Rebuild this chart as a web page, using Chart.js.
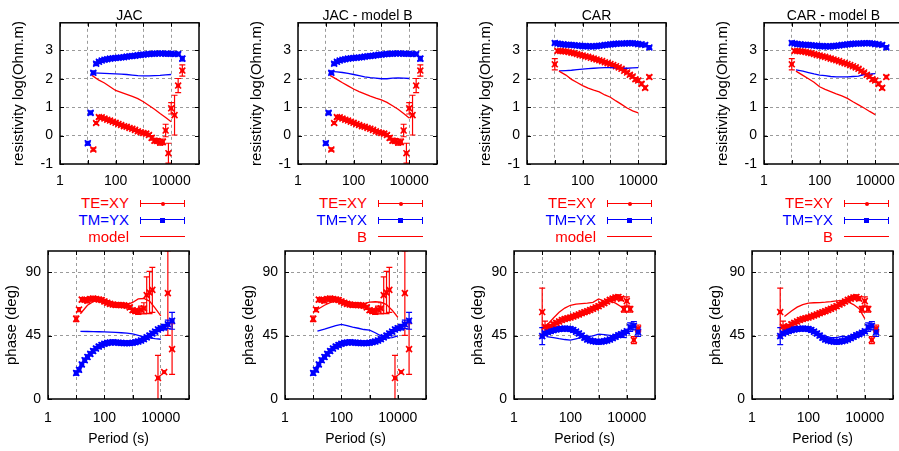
<!DOCTYPE html>
<html>
<head>
<meta charset="utf-8">
<script src="https://cdn.jsdelivr.net/npm/chart.js@4.4.1/dist/chart.umd.min.js"></script>
<style>
  html, body { margin: 0; padding: 0; background: #fff; overflow: hidden; }
  #page { position: relative; width: 899px; height: 451px; overflow: hidden;
          font-family: "Liberation Sans", Arial, sans-serif; }
  .box { position: absolute; }
  .lg { position: absolute; width: 120px; font-size: 15px; line-height: 18px; text-align: right; white-space: nowrap; }
  .smp { position: absolute; width: 45px; height: 9px; }
  .smp div { position: absolute; }
</style>
</head>
<body>
<div id="page"></div>
<script>
// periods (s) of the observed data
const PERIOD = [10, 12.6, 15.8, 20, 25.1, 31.6, 39.8, 50.1, 63.1, 79.4,
  100, 126, 158, 200, 251, 316, 398, 501, 631, 794,
  1000, 1259, 1585, 1995, 2512, 3162, 3981, 5012, 6310, 7943,
  10000, 13183, 17783, 25119];
// periods (s) of the model responses
const MODEL_PERIOD = [14.1, 25.1, 39.8, 63.1, 100, 158, 251, 398, 631, 1000, 1585, 2512, 3981, 6310, 10000];

const X_TICKS = [1, 10, 100, 1000, 10000, 100000];
const X_LABELS = [1, 100, 10000];
const RHO_TICKS = [-1, 0, 1, 2, 3];
const PHASE_TICKS = [0, 45, 90];

// JAC observed apparent resistivity, log10(Ohm.m)
const jacRhoTE = [null, null, -0.49, 0.44, 0.65, 0.64, 0.60, 0.56, 0.53, 0.49,
  0.45, 0.41, 0.37, 0.33, 0.31, 0.27, 0.24, 0.20, 0.15, 0.12,
  0.09, 0.07, 0.02, -0.08, -0.18, -0.19, -0.24, -0.22, 0.18, -0.62,
  0.96, 0.72, 1.76, 2.29];
const jacRhoTEerr = [0, 0, 0.05, 0.05, 0.05, 0.05, 0.05, 0.05, 0.05, 0.05,
  0.05, 0.05, 0.05, 0.05, 0.05, 0.05, 0.05, 0.05, 0.05, 0.05,
  0.06, 0.06, 0.06, 0.08, 0.08, 0.08, 0.1, 0.1, 0.22, 0.35,
  0.2, 0.7, 0.25, 0.2];
const jacRhoTM = [-0.27, 0.80, 2.21, 2.53, 2.60, 2.64, 2.67, 2.69, 2.71, 2.72,
  2.73, 2.74, 2.75, 2.76, 2.78, 2.79, 2.80, 2.81, 2.83, 2.84,
  2.85, 2.86, 2.87, 2.88, 2.88, 2.89, 2.89, 2.89, 2.88, 2.88,
  2.88, 2.87, 2.87, 2.71];
const jacRhoTMerr = [0.05, 0.05, 0.05, 0.04, 0.04, 0.04, 0.04, 0.04, 0.04, 0.04,
  0.04, 0.04, 0.04, 0.04, 0.04, 0.04, 0.04, 0.04, 0.04, 0.04,
  0.04, 0.04, 0.04, 0.04, 0.04, 0.04, 0.04, 0.04, 0.04, 0.04,
  0.04, 0.05, 0.05, 0.08];

// JAC observed phase, degrees
const jacPhTE = [56.9, 63.4, 70.5, 70.5, 69.7, 71.0, 71.3, 71.0, 70.6, 70.2,
  69.2, 68.3, 67.5, 67.0, 66.7, 66.7, 66.6, 66.4, 66.2, 65.0,
  63.0, 62.3, 62.0, 63.4, 64.3, 73.7, 75.5, 77.4, null, 14.9,
  null, 19.1, 75.1, 35.4];
const jacPhTEerr = [2, 1.5, 1.5, 1.5, 1.5, 1.5, 1.5, 1.5, 1.5, 1.5,
  1.5, 1.5, 1.5, 1.5, 1.5, 1.5, 1.5, 1.5, 1.5, 1.5,
  1.5, 1.5, 2, 2.5, 4, 13, 15, 16, 0, 16,
  0, 0, 30, 18];
const jacPhTM = [18.4, 20.7, 24.5, 27.5, 29.8, 32.0, 34.0, 35.8, 37.2, 38.3,
  39.2, 39.8, 40.1, 40.2, 40.1, 40.0, 39.8, 39.6, 39.5, 39.6,
  39.9, 40.3, 40.8, 41.5, 42.5, 43.7, 45.0, 46.5, 47.8, 49.3,
  50.2, 51.0, 53.0, 55.5];
const jacPhTMerr = [1.5, 1.5, 1.5, 1.5, 1.5, 1.5, 1.5, 1.5, 1.5, 1.5,
  1.5, 1.5, 1.5, 1.5, 1.5, 1.5, 1.5, 1.5, 1.5, 1.5,
  1.5, 1.5, 1.5, 1.5, 1.5, 1.5, 1.5, 1.5, 1.5, 1.5,
  1.5, 2, 3, 6];

// CAR observed apparent resistivity
const carRhoTE = [2.51, 2.98, 2.98, 2.97, 2.96, 2.94, 2.92, 2.90, 2.87, 2.84,
  2.82, 2.79, 2.77, 2.74, 2.71, 2.68, 2.65, 2.62, 2.58, 2.55,
  2.52, 2.48, 2.44, 2.40, 2.35, 2.28, 2.22, 2.14, 2.08, 1.98,
  1.94, 1.82, 1.68, 2.06];
const carRhoTEerr = [0.2, 0.05, 0.04, 0.04, 0.04, 0.04, 0.04, 0.04, 0.04, 0.04,
  0.04, 0.04, 0.04, 0.04, 0.04, 0.04, 0.04, 0.04, 0.04, 0.04,
  0.04, 0.04, 0.04, 0.04, 0.04, 0.04, 0.04, 0.05, 0.05, 0.06,
  0.06, 0.06, 0.06, 0.06];
const carRhoTM = [3.26, 3.24, 3.22, 3.21, 3.20, 3.20, 3.19, 3.18, 3.17, 3.16,
  3.15, 3.15, 3.14, 3.14, 3.14, 3.15, 3.16, 3.17, 3.19, 3.20,
  3.21, 3.22, 3.23, 3.24, 3.24, 3.24, 3.25, 3.25, 3.25, 3.24,
  3.22, 3.21, 3.19, 3.10];
const carRhoTMerr = [0.05, 0.04, 0.04, 0.04, 0.04, 0.04, 0.04, 0.04, 0.04, 0.04,
  0.04, 0.04, 0.04, 0.04, 0.04, 0.04, 0.04, 0.04, 0.04, 0.04,
  0.04, 0.04, 0.04, 0.04, 0.04, 0.04, 0.04, 0.04, 0.04, 0.04,
  0.04, 0.04, 0.05, 0.05];

// CAR observed phase
const carPhTE = [61.7, 51.3, 50.5, 51.5, 53.0, 54.0, 55.0, 56.0, 56.8, 57.3,
  57.8, 58.5, 59.3, 60.0, 60.8, 61.6, 62.3, 63.1, 64.0, 64.9,
  65.8, 67.0, 68.0, 69.2, 70.3, 71.2, 72.0, 72.4, 71.2, 63.7,
  69.5, 63.7, 41.8, 50.0];
const carPhTEerr = [17, 4, 1.5, 1.5, 1.5, 1.5, 1.5, 1.5, 1.5, 1.5,
  1.5, 1.5, 1.5, 1.5, 1.5, 1.5, 1.5, 1.5, 1.5, 1.5,
  1.5, 1.5, 1.5, 1.5, 1.5, 1.5, 1.5, 1.5, 1.5, 2,
  3, 2, 2.5, 2.5];
const carPhTM = [44.6, 46.5, 47.5, 48.2, 48.8, 49.3, 49.7, 49.9, 50.0, 49.9,
  49.7, 48.9, 47.8, 46.5, 45.0, 43.5, 42.2, 41.5, 41.0, 40.7,
  40.6, 40.7, 41.0, 41.5, 42.2, 43.2, 44.2, 45.2, 46.0, 47.0,
  48.0, 51.0, 52.0, 47.5];
const carPhTMerr = [6, 1.5, 1.5, 1.5, 1.5, 1.5, 1.5, 1.5, 1.5, 1.5,
  1.5, 1.5, 1.5, 1.5, 1.5, 1.5, 1.5, 1.5, 1.5, 1.5,
  1.5, 1.5, 1.5, 1.5, 1.5, 1.5, 1.5, 1.5, 1.5, 1.5,
  1.5, 3, 3, 3];

// model responses (on MODEL_PERIOD)
const jacModRhoTE = [2.12, 1.95, 1.85, 1.72, 1.59, 1.52, 1.45, 1.38, 1.30, 1.19, 1.06, 0.93, 0.78, 0.64, 0.49];
const jacModRhoTM = [2.21, 2.20, 2.19, 2.18, 2.17, 2.16, 2.15, 2.13, 2.11, 2.10, 2.10, 2.11, 2.12, 2.14, 2.15];
const jacModPhTE = [60.5, 66.5, 69.0, 70.2, 70.2, 68.8, 67.2, 66.6, 67.0, 68.5, 71.0, 71.3, 69.5, 64.5, 59.0];
const jacModPhTM = [48.0, 47.9, 47.8, 47.7, 47.6, 47.4, 47.2, 47.0, 46.8, 46.2, 45.2, 44.0, 43.3, 42.8, 42.4];

const jacBRhoTE = [2.12, 1.98, 1.86, 1.75, 1.64, 1.55, 1.47, 1.39, 1.32, 1.26, 1.17, 1.05, 0.93, 0.78, 0.62];
const jacBRhoTM = [2.26, 2.24, 2.22, 2.19, 2.15, 2.11, 2.07, 2.04, 2.02, 2.00, 2.00, 2.02, 2.03, 2.02, 2.01];
const jacBPhTE = [63.5, 66.5, 68.3, 69.5, 69.8, 69.0, 68.2, 67.8, 67.7, 68.8, 69.0, 68.7, 67.0, 63.0, 58.0];
const jacBPhTM = [48.2, 49.5, 50.8, 52.0, 52.9, 52.0, 51.0, 50.2, 49.3, 48.8, 47.0, 44.8, 43.2, 43.5, 44.7];

const carModRhoTE = [2.27, 2.13, 1.98, 1.87, 1.76, 1.67, 1.60, 1.54, 1.43, 1.35, 1.22, 1.10, 0.97, 0.87, 0.80];
const carModRhoTM = [2.28, 2.29, 2.30, 2.32, 2.34, 2.36, 2.37, 2.38, 2.39, 2.39, 2.38, 2.37, 2.37, 2.38, 2.39];
const carModPhTE = [52.0, 57.5, 61.5, 64.5, 66.5, 67.3, 67.7, 68.0, 68.6, 71.0, 69.5, 69.6, 68.0, 65.5, 61.0];
const carModPhTM = [44.2, 43.5, 42.8, 42.2, 41.8, 42.7, 43.7, 44.2, 44.8, 46.0, 45.7, 45.2, 44.3, 43.8, 43.5];

const carBRhoTE = [2.27, 2.12, 2.00, 1.88, 1.72, 1.63, 1.55, 1.47, 1.40, 1.31, 1.19, 1.08, 0.97, 0.85, 0.74];
const carBRhoTM = [2.31, 2.27, 2.22, 2.17, 2.13, 2.11, 2.08, 2.07, 2.07, 2.07, 2.08, 2.09, 2.15, 2.16, 2.18];
const carBPhTE = [58.5, 62.5, 65.2, 67.0, 68.0, 68.3, 68.4, 68.7, 69.1, 69.6, 70.0, 69.0, 67.0, 64.0, 57.0];
const carBPhTM = [48.0, 51.0, 51.5, 50.8, 49.0, 47.5, 46.0, 44.6, 43.6, 43.5, 44.5, 44.0, 44.5, 45.5, 47.5];

const RED = '#ff0000';
const BLUE = '#0000ff';
const FONT = '"Liberation Sans", Arial, sans-serif';

Chart.defaults.font.family = FONT;
Chart.defaults.color = '#000';

const page = document.getElementById('page');

// layout of the two rows of panels
const TOP_LEFTS = [60, 298, 527, 764];
const BOT_LEFTS = [48, 285, 514, 752];

const panels = [
  { title: 'JAC', legend: 'model',
    rho: [jacRhoTE, jacRhoTEerr, jacRhoTM, jacRhoTMerr], ph: [jacPhTE, jacPhTEerr, jacPhTM, jacPhTMerr],
    mRho: [jacModRhoTE, jacModRhoTM], mPh: [jacModPhTE, jacModPhTM] },
  { title: 'JAC - model B', legend: 'B',
    rho: [jacRhoTE, jacRhoTEerr, jacRhoTM, jacRhoTMerr], ph: [jacPhTE, jacPhTEerr, jacPhTM, jacPhTMerr],
    mRho: [jacBRhoTE, jacBRhoTM], mPh: [jacBPhTE, jacBPhTM] },
  { title: 'CAR', legend: 'model',
    rho: [carRhoTE, carRhoTEerr, carRhoTM, carRhoTMerr], ph: [carPhTE, carPhTEerr, carPhTM, carPhTMerr],
    mRho: [carModRhoTE, carModRhoTM], mPh: [carModPhTE, carModPhTM] },
  { title: 'CAR - model B', legend: 'B',
    rho: [carRhoTE, carRhoTEerr, carRhoTM, carRhoTMerr], ph: [carPhTE, carPhTEerr, carPhTM, carPhTMerr],
    mRho: [carBRhoTE, carBRhoTM], mPh: [carBPhTE, carBPhTM] }
];

function obs(vals, errs) {
  const pts = [];
  PERIOD.forEach((p, i) => {
    if (vals[i] !== null) pts.push({ x: p, y: vals[i], e: errs[i] });
  });
  return pts;
}
function model(vals) {
  return MODEL_PERIOD.map((p, i) => ({ x: p, y: vals[i] }));
}

// error bars under the points, small filled marker on top of them
const errorBars = {
  id: 'errorBars',
  beforeDatasetsDraw(chart) {
    const { ctx, chartArea: a, scales: { x, y } } = chart;
    ctx.save();
    ctx.beginPath();
    ctx.rect(a.left, a.top, a.right - a.left, a.bottom - a.top);
    ctx.clip();
    chart.data.datasets.forEach(ds => {
      if (!ds.mark) return;
      ctx.strokeStyle = ds.borderColor;
      ctx.lineWidth = 1.2;
      ds.data.forEach(p => {
        if (!p.e) return;
        const px = x.getPixelForValue(p.x);
        const y1 = y.getPixelForValue(p.y - p.e);
        const y2 = y.getPixelForValue(p.y + p.e);
        ctx.beginPath();
        ctx.moveTo(px, y1); ctx.lineTo(px, y2);
        ctx.moveTo(px - 3, y1); ctx.lineTo(px + 3, y1);
        ctx.moveTo(px - 3, y2); ctx.lineTo(px + 3, y2);
        ctx.stroke();
      });
    });
    ctx.restore();
  },
  afterDatasetsDraw(chart) {
    const { ctx, chartArea: a, scales: { x, y } } = chart;
    ctx.save();
    ctx.beginPath();
    ctx.rect(a.left, a.top, a.right - a.left, a.bottom - a.top);
    ctx.clip();
    chart.data.datasets.forEach(ds => {
      if (!ds.mark) return;
      ctx.fillStyle = ds.borderColor;
      ds.data.forEach(p => {
        const px = x.getPixelForValue(p.x);
        const py = y.getPixelForValue(p.y);
        if (ds.mark === 'square') {
          ctx.fillRect(px - 2.5, py - 2.5, 5, 5);
        } else {
          ctx.fillRect(px - 2, py - 2, 4, 4);
        }
      });
    });
    ctx.restore();
  }
};

// gnuplot style frame with inward tick marks
const frame = {
  id: 'frame',
  afterDraw(chart) {
    const { ctx, chartArea: a, scales: { x, y } } = chart;
    ctx.save();
    ctx.strokeStyle = '#000';
    ctx.lineWidth = 1;
    ctx.beginPath();
    x.ticks.forEach(t => {
      const px = Math.round(x.getPixelForValue(t.value)) + 0.5;
      ctx.moveTo(px, a.bottom); ctx.lineTo(px, a.bottom - 4);
      ctx.moveTo(px, a.top); ctx.lineTo(px, a.top + 4);
    });
    y.ticks.forEach(t => {
      const py = Math.round(y.getPixelForValue(t.value)) + 0.5;
      ctx.moveTo(a.left, py); ctx.lineTo(a.left + 4, py);
      ctx.moveTo(a.right, py); ctx.lineTo(a.right - 4, py);
    });
    ctx.stroke();
    ctx.lineWidth = 1.5;
    ctx.strokeRect(a.left, a.top, a.right - a.left, a.bottom - a.top);
    ctx.restore();
  }
};

function makePanel(o) {
  const div = document.createElement('div');
  div.className = 'box';
  div.style.left = (o.plotLeft - o.axisW) + 'px';
  div.style.top = o.canvasTop + 'px';
  div.style.width = (o.axisW + o.plotW + 6) + 'px';
  div.style.height = o.canvasH + 'px';
  const canvas = document.createElement('canvas');
  div.appendChild(canvas);
  page.appendChild(div);

  const yMin = o.yMin, yMax = o.yMax;
  new Chart(canvas, {
    type: 'scatter',
    data: {
      datasets: [
        { data: model(o.mTE), borderColor: RED, borderWidth: 1.3, showLine: true, pointRadius: 0, tension: 0 },
        { data: model(o.mTM), borderColor: BLUE, borderWidth: 1.3, showLine: true, pointRadius: 0, tension: 0 },
        { data: obs(o.te, o.teErr), borderColor: RED, backgroundColor: RED, pointStyle: 'crossRot',
          pointRadius: 4.2, pointBorderWidth: 1.6, mark: 'circle' },
        { data: obs(o.tm, o.tmErr), borderColor: BLUE, backgroundColor: BLUE, pointStyle: 'crossRot',
          pointRadius: 4.2, pointBorderWidth: 1.6, mark: 'square' }
      ]
    },
    options: {
      responsive: true,
      maintainAspectRatio: false,
      animation: false,
      events: [],
      layout: { padding: { top: o.padTop, right: 6, left: 0, bottom: 0 } },
      plugins: {
        legend: { display: false },
        tooltip: { enabled: false },
        title: {
          display: !!o.title, text: o.title, fullSize: false, color: '#000',
          font: { size: 14, weight: 'normal' }, padding: { top: 8, bottom: -2 }
        }
      },
      scales: {
        x: {
          type: 'logarithmic', min: 1, max: 100000,
          afterBuildTicks: s => { s.ticks = X_TICKS.map(v => ({ value: v })); },
          ticks: {
            autoSkip: false, maxRotation: 0, minRotation: 0, color: '#000',
            font: { size: 14 }, padding: o.xPad,
            callback: v => X_LABELS.includes(v) ? String(v) : ''
          },
          grid: {
            drawTicks: false, lineWidth: 1,
            color: c => (c.tick && c.tick.value > 1 && c.tick.value < 100000) ? '#9a9a9a' : 'rgba(0,0,0,0)'
          },
          border: { display: false, dash: [3, 3] },
          title: {
            display: !!o.xTitle, text: o.xTitle, color: '#000',
            font: { size: 14 }, padding: { top: 0, bottom: 3 }
          },
          afterFit: s => { s.height = o.xH; }
        },
        y: {
          min: yMin, max: yMax,
          afterBuildTicks: s => { s.ticks = o.yTicks.map(v => ({ value: v })); },
          ticks: { color: '#000', font: { size: 14 }, padding: 7 },
          grid: {
            drawTicks: false, lineWidth: 1,
            color: c => (c.tick && c.tick.value > yMin && c.tick.value < yMax) ? '#9a9a9a' : 'rgba(0,0,0,0)'
          },
          border: { display: false, dash: [3, 3] },
          title: {
            display: true, text: o.yTitle, color: '#000',
            font: { size: 15 }, padding: { top: o.yTitlePad, bottom: 0 }
          },
          afterFit: s => { s.width = o.axisW; }
        }
      }
    },
    plugins: [errorBars, frame]
  });
}

function legendRow(x0, cy, text, color, kind) {
  const t = document.createElement('div');
  t.className = 'lg';
  t.textContent = text;
  t.style.color = color;
  t.style.left = (x0 + 69 - 120) + 'px';
  t.style.top = (cy - 9) + 'px';
  page.appendChild(t);

  const s = document.createElement('div');
  s.className = 'smp';
  s.style.left = (x0 + 80) + 'px';
  s.style.top = (cy - 4) + 'px';
  const line = document.createElement('div');
  line.style.cssText = 'left:0;top:3.5px;width:45px;height:0;border-top:1.5px solid ' + color;
  s.appendChild(line);
  if (kind !== 'line') {
    [0, 44].forEach(l => {
      const cap = document.createElement('div');
      cap.style.cssText = 'left:' + l + 'px;top:1px;width:1px;height:7px;background-color:' + color;
      s.appendChild(cap);
    });
    const m = document.createElement('div');
    if (kind === 'circle') {
      m.style.cssText = 'left:20.5px;top:2.5px;width:4px;height:4px;border-radius:2px;background-color:' + color;
    } else {
      m.style.cssText = 'left:20px;top:2px;width:5px;height:5px;background-color:' + color;
    }
    s.appendChild(m);
  }
  page.appendChild(s);
}

panels.forEach((p, i) => {
  // apparent resistivity row
  makePanel({
    plotLeft: TOP_LEFTS[i], plotW: 142, axisW: 56, canvasTop: 0, canvasH: 190, padTop: 0,
    xH: 26, xPad: 9, xTitle: '', title: p.title,
    yMin: -1, yMax: 3.97, yTicks: RHO_TICKS, yTitle: 'resistivity log(Ohm.m)', yTitlePad: 6,
    te: p.rho[0], teErr: p.rho[1], tm: p.rho[2], tmErr: p.rho[3], mTE: p.mRho[0], mTM: p.mRho[1]
  });
  // phase row
  makePanel({
    plotLeft: BOT_LEFTS[i], plotW: 146, axisW: 48, canvasTop: 231, canvasH: 220, padTop: 20,
    xH: 52, xPad: 11, xTitle: 'Period (s)', title: '',
    yMin: 0, yMax: 105, yTicks: PHASE_TICKS, yTitle: 'phase (deg)', yTitlePad: 3,
    te: p.ph[0], teErr: p.ph[1], tm: p.ph[2], tmErr: p.ph[3], mTE: p.mPh[0], mTM: p.mPh[1]
  });
  // legend between the rows
  legendRow(TOP_LEFTS[i], 203, 'TE=XY', RED, 'circle');
  legendRow(TOP_LEFTS[i], 219.5, 'TM=YX', BLUE, 'square');
  legendRow(TOP_LEFTS[i], 236.5, p.legend, RED, 'line');
});
</script>
</body>
</html>
